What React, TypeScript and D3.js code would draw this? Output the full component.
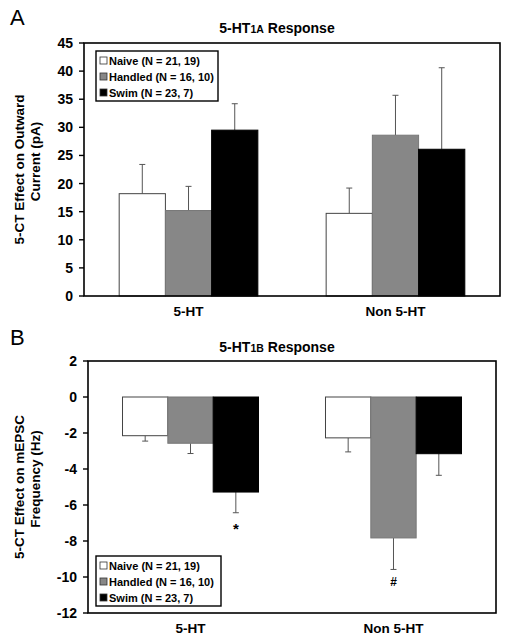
import React from "react";
import * as d3 from "d3";

const categories = ["5-HT", "Non 5-HT"];
const seriesNames = ["Naive (N = 21, 19)", "Handled (N = 16, 10)", "Swim (N = 23, 7)"];
const seriesFills = ["#ffffff", "#878787", "#000000"];

// Panel A: 5-HT1A response (pA)
const aValues = [
  [18.2, 15.2, 29.5],
  [14.7, 28.6, 26.1],
];
const aErrors = [
  [5.2, 4.3, 4.7],
  [4.5, 7.1, 14.5],
];
const aTicks = [0, 5, 10, 15, 20, 25, 30, 35, 40, 45];

// Panel B: 5-HT1B response (Hz)
const bValues = [
  [-2.15, -2.57, -5.28],
  [-2.27, -7.83, -3.15],
];
const bErrors = [
  [0.3, 0.57, 1.15],
  [0.78, 1.75, 1.2],
];
const bTicks = [2, 0, -2, -4, -6, -8, -10, -12];
const bMarks = [
  { cat: 0, ser: 2, text: "*", size: 15, dy: 21 },
  { cat: 1, ser: 1, text: "#", size: 12, dy: 17 },
];

const FONT = "'Liberation Sans', Arial, sans-serif";

type PanelProps = {
  letter: string;
  letterY: number;
  titleSub: string;
  titleY: number;
  x0: number;
  x1: number;
  yTop: number;
  yBot: number;
  domain: [number, number];
  ticks: number[];
  values: number[][];
  errors: number[][];
  yLabel: string[];
  legendX: number;
  legendY: number;
  legendW: number;
  marks?: { cat: number; ser: number; text: string; size: number; dy: number }[];
};

function Panel(p: PanelProps) {
  const x = d3.scaleBand().domain(categories).range([p.x0, p.x1]).paddingInner(0.33).paddingOuter(0.17);
  const xs = d3.scaleBand().domain(["0", "1", "2"]).range([0, x.bandwidth()]);
  const y = d3.scaleLinear().domain(p.domain).range([p.yBot, p.yTop]);
  const y0 = y(0);
  const cy = (p.yTop + p.yBot) / 2;
  return (
    <g>
      <text x={10} y={p.letterY} fontFamily={FONT} fontSize={22} fill="#000">{p.letter}</text>
      <text x={277} y={p.titleY} textAnchor="middle" fontFamily={FONT} fontSize={14} fontWeight="bold">
        5-HT<tspan fontSize={10.5}>{p.titleSub}</tspan> Response
      </text>
      {/* y label */}
      <g transform={`translate(24,${cy}) rotate(-90)`}>
        <text x={0} y={0} textAnchor="middle" fontFamily={FONT} fontSize={13.5} fontWeight="bold">{p.yLabel[0]}</text>
        <text x={8} y={16} textAnchor="middle" fontFamily={FONT} fontSize={13.5} fontWeight="bold">{p.yLabel[1]}</text>
      </g>
      {/* bars */}
      {categories.map((c, ci) =>
        p.values[ci].map((v, si) => {
          const bx = (x(c) as number) + (xs(String(si)) as number);
          const bw = xs.bandwidth();
          const top = Math.min(y(v), y0);
          const h = Math.abs(y(v) - y0);
          const errEnd = v >= 0 ? v + p.errors[ci][si] : v - p.errors[ci][si];
          const cx = bx + bw / 2;
          return (
            <g key={`${ci}-${si}`}>
              <line x1={cx} x2={cx} y1={y(v)} y2={y(errEnd)} stroke="#555" strokeWidth={1} />
              <line x1={cx - 3} x2={cx + 3} y1={y(errEnd)} y2={y(errEnd)} stroke="#555" strokeWidth={1} />
              <rect x={bx} y={top} width={bw} height={h} fill={seriesFills[si]} stroke={si === 0 ? "#444" : seriesFills[si] === "#000000" ? "#000" : "#777"} strokeWidth={1} />
            </g>
          );
        })
      )}
      {/* frame */}
      <rect x={p.x0} y={p.yTop} width={p.x1 - p.x0} height={p.yBot - p.yTop} fill="none" stroke="#000" strokeWidth={1.6} />
      {/* ticks */}
      {p.ticks.map((t) => (
        <g key={t}>
          <line x1={p.x0 - 5} x2={p.x0} y1={y(t)} y2={y(t)} stroke="#000" strokeWidth={1.4} />
          <text x={p.x0 - 11} y={y(t) + 5} textAnchor="end" fontFamily={FONT} fontSize={14} fontWeight="bold">{t}</text>
        </g>
      ))}
      {/* category labels */}
      {categories.map((c) => (
        <text key={c} x={(x(c) as number) + x.bandwidth() / 2} y={p.yBot + 20} textAnchor="middle" fontFamily={FONT} fontSize={13.5} fontWeight="bold">{c}</text>
      ))}
      {/* significance marks */}
      {(p.marks || []).map((m, i) => {
        const v = p.values[m.cat][m.ser];
        const e = v - p.errors[m.cat][m.ser];
        const cx = (x(categories[m.cat]) as number) + (xs(String(m.ser)) as number) + xs.bandwidth() / 2;
        return (
          <text key={i} x={cx} y={y(e) + m.dy} textAnchor="middle" fontFamily={FONT} fontSize={m.size} fontWeight="bold">{m.text}</text>
        );
      })}
      {/* legend */}
      <rect x={p.legendX} y={p.legendY} width={p.legendW} height={50} fill="#fff" stroke="#000" strokeWidth={1.4} />
      {seriesNames.map((s, i) => (
        <g key={s}>
          <rect x={p.legendX + 4} y={p.legendY + 6 + i * 16} width={7} height={7} fill={seriesFills[i]} stroke="#333" strokeWidth={0.8} />
          <text x={p.legendX + 13} y={p.legendY + 14 + i * 16} fontFamily={FONT} fontSize={11} fontWeight="bold">{s}</text>
        </g>
      ))}
    </g>
  );
}

export default function App() {
  return (
    <svg width={510} height={641} style={{ position: "absolute", left: 0, top: 0, background: "#fff" }}>
      <rect width={510} height={641} fill="#fff" />
      <Panel
        letter="A"
        letterY={25}
        titleSub="1A"
        titleY={33}
        x0={84}
        x1={500}
        yTop={43}
        yBot={296}
        domain={[0, 45]}
        ticks={aTicks}
        values={aValues}
        errors={aErrors}
        yLabel={["5-CT Effect on Outward", "Current (pA)"]}
        legendX={96}
        legendY={51}
        legendW={122}
      />
      <Panel
        letter="B"
        letterY={345}
        titleSub="1B"
        titleY={352}
        x0={88}
        x1={496}
        yTop={361}
        yBot={613}
        domain={[-12, 2]}
        ticks={bTicks}
        values={bValues}
        errors={bErrors}
        yLabel={["5-CT Effect on mEPSC", "Frequency (Hz)"]}
        legendX={96}
        legendY={556}
        legendW={125}
        marks={bMarks}
      />
    </svg>
  );
}
